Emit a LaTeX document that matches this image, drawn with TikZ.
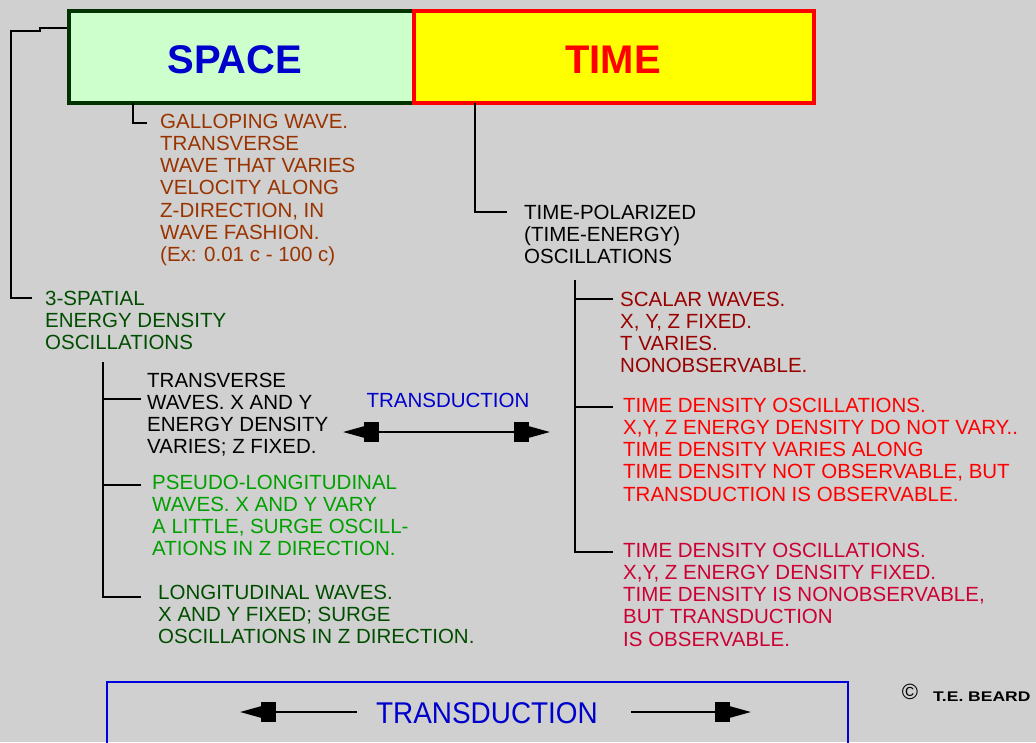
\documentclass[tikz,border=0pt]{standalone}
\usepackage{fontspec}
\setmainfont{Liberation Sans}
\usetikzlibrary{arrows.meta,calc}
\definecolor{bg}{RGB}{208,208,208}
\definecolor{spfill}{HTML}{CCFFCC}
\definecolor{spborder}{HTML}{003300}
\definecolor{sptext}{HTML}{0000CC}
\definecolor{tmfill}{HTML}{FFFF00}
\definecolor{tmred}{HTML}{FF0000}
\definecolor{gallopc}{HTML}{993300}
\definecolor{dgreen}{HTML}{004D00}
\definecolor{lgreen}{HTML}{00A000}
\definecolor{dred}{HTML}{990000}
\definecolor{crimson}{HTML}{CC0033}
\definecolor{bblue}{HTML}{0000DD}
\newcommand\pxtext{\fontsize{20.5}{22.2}\selectfont}
\tikzset{
  txt/.style={anchor=north west,inner sep=0pt,align=left,font=\pxtext},
  conn/.style={draw=black,line width=2pt},
  bigbox/.style={line width=4pt,inner sep=0pt},
  dblarrow/.style={line width=2pt,
    {Triangle[length=21pt,width=11pt,sep=0pt] Rectangle[length=15pt,width=20pt,sep=0pt]}-{Rectangle[length=15pt,width=20pt,sep=0pt] Triangle[length=21pt,width=11pt,sep=0pt]}},
  endarrow/.style={line width=2pt,
    -{Rectangle[length=15pt,width=20pt,sep=0pt] Triangle[length=21pt,width=11pt,sep=0pt]}}
}
\begin{document}
\begin{tikzpicture}[x=1pt,y=-1pt]
\path[use as bounding box,clip] (0,0) rectangle (1036,742);
\fill[bg] (0,0) rectangle (1036,742);

% text blocks
\node[txt,text=gallopc] (gallop) at (160,113.7) {GALLOPING WAVE.\\TRANSVERSE\\WAVE THAT VARIES\\VELOCITY ALONG\\Z-DIRECTION, IN\\WAVE FASHION.\\(Ex: 0.01 c - 100 c)};
\node[txt] (timepol) at (524,204.7) {TIME-POLARIZED\\(TIME-ENERGY)\\OSCILLATIONS};
\node[txt,text=dgreen] (spatial) at (45,290.7) {3-SPATIAL\\ENERGY DENSITY\\OSCILLATIONS};
\node[txt] (trans) at (147,372.7) {TRANSVERSE\\WAVES. X AND Y\\ENERGY DENSITY\\VARIES; Z FIXED.};
\node[txt,text=lgreen] (pseudo) at (152,474.7) {PSEUDO-LONGITUDINAL\\WAVES.  X AND Y VARY\\A LITTLE, SURGE OSCILL-\\ATIONS IN Z DIRECTION.};
\node[txt,text=dgreen] (long) at (158,584.7) {LONGITUDINAL WAVES.\\X AND Y FIXED; SURGE\\OSCILLATIONS IN  Z DIRECTION.};
\node[txt,text=dred] (scalar) at (620,291.7) {SCALAR WAVES.\\X, Y, Z FIXED.\\T VARIES.\\NONOBSERVABLE.};
\node[txt,text=tmred] (tdo1) at (623,397.7) {TIME DENSITY OSCILLATIONS.\\X,Y, Z ENERGY DENSITY DO NOT VARY..\\TIME DENSITY VARIES ALONG\\TIME DENSITY NOT OBSERVABLE, BUT\\TRANSDUCTION IS OBSERVABLE.};
\node[txt,text=crimson] (tdo2) at (623,542.7) {TIME DENSITY OSCILLATIONS.\\X,Y, Z ENERGY DENSITY FIXED.\\TIME DENSITY IS NONOBSERVABLE,\\BUT TRANSDUCTION\\IS OBSERVABLE.};

% header boxes
\node[bigbox,draw=spborder,fill=spfill,minimum width=346pt,minimum height=92pt] (space) at (242,57) {};
\coordinate (sl1) at ($(spatial.north west)+(-34,7.3)$);
\draw[conn] ($(space.north west)+(2,19)$) -- ++(-29,0) -- ++(0,3) -| (sl1) -- ++(21,0);
\node[bigbox,draw=spborder,fill=spfill,minimum width=346pt,minimum height=92pt] (spacetop) at (242,57) {};
\node[bigbox,draw=tmred,fill=tmfill,minimum width=400pt,minimum height=92pt] (time) at (614,57) {};
\node[text=sptext,font=\bfseries\fontsize{40}{40}\selectfont,inner sep=0pt] (spacelbl) at (235,59.5) {SPACE};
\node[text=tmred,font=\bfseries\fontsize{40}{40}\selectfont,inner sep=0pt] (timelbl) at (613,59.5) {TIME};

% connectors
\draw[conn] ($(space.south west)+(66,-2)$) |- ($(gallop.north west)+(-13,9.3)$);
\draw[conn] ($(time.south west)+(63,-2)$) |- ($(timepol.north west)+(-17,7.3)$);

% left tree
\coordinate (lt) at ($(spatial.north west)+(58,71.3)$);
\coordinate (tb) at ($(trans.north west)+(-6,26.3)$);
\coordinate (pb) at ($(pseudo.north west)+(-11,10.3)$);
\coordinate (lb) at ($(long.north west)+(-17,12.3)$);
\draw[conn] (lt) |- (lb);
\draw[conn] (tb) -- (lt |- tb);
\draw[conn] (pb) -- (lt |- pb);

% right tree
\coordinate (rt) at ($(timepol.north west)+(51,75.3)$);
\coordinate (sb) at ($(scalar.north west)+(-7,7.3)$);
\coordinate (t1b) at ($(tdo1.north west)+(-10,9.3)$);
\coordinate (t2b) at ($(tdo2.north west)+(-10,9.3)$);
\draw[conn] (rt) |- (t2b);
\draw[conn] (sb) -- (rt |- sb);
\draw[conn] (t1b) -- (rt |- t1b);

% middle transduction
\node[text=sptext,font=\pxtext,inner sep=0pt] (mtr) at (448,400) {TRANSDUCTION};
\coordinate (ma) at (343,432);
\coordinate (mb) at (550,432);
\draw[dblarrow] (ma) -- (mb);

% bottom box
\node[draw=bblue,line width=2pt,minimum width=741pt,minimum height=120pt,inner sep=0pt] (tbox) at (477.5,742) {};
\node[text=sptext,font=\fontsize{30}{30}\selectfont,inner sep=0pt] (btr) at (487,713) {\scalebox{0.93}[1]{TRANSDUCTION}};
\draw[endarrow] ($(btr.west)+(-19,-1)$) -- ($(btr.west)+(-136,-1)$);
\draw[endarrow] ($(btr.east)+(33,-1)$) -- ($(btr.east)+(153,-1)$);

% copyright
\node[inner sep=0pt,font=\fontsize{22}{22}\selectfont] (copysym) at (910,692) {©};
\node[anchor=west,inner sep=0pt,font=\bfseries\fontsize{14}{14}\selectfont] (author) at (933,697) {\scalebox{1.25}[1]{T.E. BEARD}};
\end{tikzpicture}
\end{document}
